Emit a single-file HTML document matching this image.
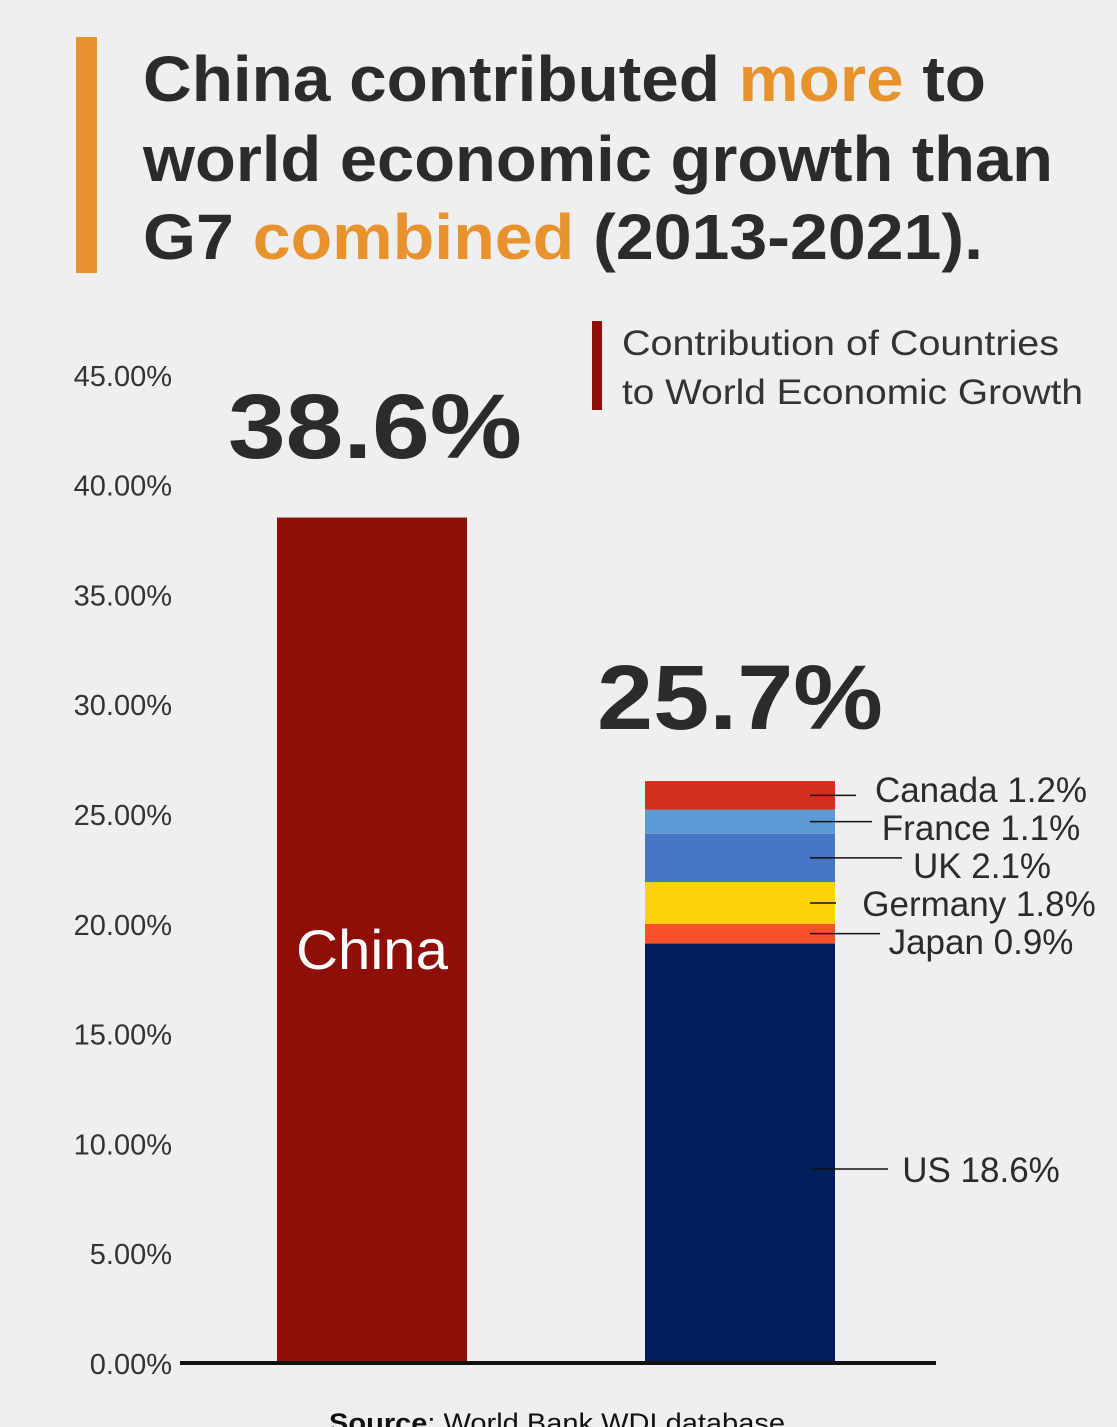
<!DOCTYPE html>
<html><head><meta charset="utf-8"><style>
body{margin:0;background:#efefef;}
svg{display:block;font-family:"Liberation Sans",sans-serif;}
</style></head><body>
<svg id="chart" width="1117" height="1427" viewBox="0 0 1117 1427">
<rect width="1117" height="1427" fill="#efefef"/>
<rect x="76" y="37" width="21" height="236" fill="#e8922e"/>
<g font-weight="bold" font-size="64" fill="#2b2b2b">
<text x="143" y="101" textLength="843" lengthAdjust="spacingAndGlyphs">China contributed <tspan fill="#e8922e">more</tspan> to</text>
<text x="143" y="181" textLength="910" lengthAdjust="spacingAndGlyphs">world economic growth than</text>
<text x="143" y="259" textLength="840" lengthAdjust="spacingAndGlyphs">G7 <tspan fill="#e8922e">combined</tspan> (2013-2021).</text>
</g>
<rect x="592" y="321" width="10" height="89" fill="#8e0e08"/>
<g font-size="35" fill="#333">
<text x="622" y="355" textLength="437" lengthAdjust="spacingAndGlyphs">Contribution of Countries</text>
<text x="622" y="404" textLength="461" lengthAdjust="spacingAndGlyphs">to World Economic Growth</text>
</g>
<g id="yaxis"></g>
<g id="bars"></g>
<rect x="180" y="1361" width="756" height="4" fill="#111"/>
<text x="557" y="1432" text-anchor="middle" font-size="27" fill="#111" textLength="456" lengthAdjust="spacingAndGlyphs"><tspan font-weight="bold">Source</tspan>: World Bank WDI database</text>
</svg>
<script>
const ticks=[0,5,10,15,20,25,30,35,40,45];
const tickLabels=["0.00%","5.00%","10.00%","15.00%","20.00%","25.00%","30.00%","35.00%","40.00%","45.00%"];
const chinaValue=[38.5];
const chinaLabel="38.6%";
const g7Countries=["US","Japan","Germany","UK","France","Canada"];
const g7Values=[19.1,0.9,1.9,2.2,1.1,1.3];
const g7Labels=["US 18.6%","Japan 0.9%","Germany 1.8%","UK 2.1%","France 1.1%","Canada 1.2%"];
const g7Total="25.7%";
const g7Colors=["#001f5b","#f5522a","#fcd20c","#4676c4","#5b9ad4","#d42e1e"];
const NS="http://www.w3.org/2000/svg";
const y=v=>1363-v*21.96;
function mk(tag,attrs,parent,txt){const e=document.createElementNS(NS,tag);for(const k in attrs)e.setAttribute(k,attrs[k]);if(txt!=null)e.textContent=txt;parent.appendChild(e);return e;}
const ya=document.getElementById('yaxis'),bars=document.getElementById('bars');
ticks.forEach((t,i)=>{const e=mk('text',{x:172,y:y(t)+11,'text-anchor':'end','font-size':29,fill:'#333'},ya,tickLabels[i]);

});
const cb=mk('rect',{x:277,y:y(chinaValue[0]),width:190,height:y(0)-y(chinaValue[0]),fill:'#8e0e08'},bars);


const cl=mk('text',{x:372,y:969,'text-anchor':'middle','font-size':56,fill:'#fff',textLength:152,lengthAdjust:'spacingAndGlyphs'},bars,'China');


const cv=mk('text',{x:375,y:458,'text-anchor':'middle','font-size':92,'font-weight':'bold',fill:'#2b2b2b',textLength:294,lengthAdjust:'spacingAndGlyphs'},bars,chinaLabel);


let cum=0;
const lineEnds=[888,880,836,902,872,856];
g7Values.forEach((v,i)=>{
 const y0=y(cum),y1=y(cum+v);cum+=v;
 const r=mk('rect',{x:645,y:y1,width:190,height:y0-y1,fill:g7Colors[i]},bars);
 
 
 const my=i==0?1169:(y0+y1)/2;
 const l=mk('line',{x1:810,x2:lineEnds[i],y1:my,y2:my,stroke:'#111','stroke-width':1.5},bars);
 
 
 const lx=[981,981,979,982,981,981][i];
 const ly=i==0?1182:[0,942,904,866,828,790][i]+12;
 const t=mk('text',{x:lx,y:ly,'text-anchor':'middle','font-size':35,fill:'#2b2b2b'},bars,g7Labels[i]);
 
 
});
const tv=mk('text',{x:740,y:729,'text-anchor':'middle','font-size':92,'font-weight':'bold',fill:'#2b2b2b',textLength:286,lengthAdjust:'spacingAndGlyphs'},bars,g7Total);


</script>
</body></html>
